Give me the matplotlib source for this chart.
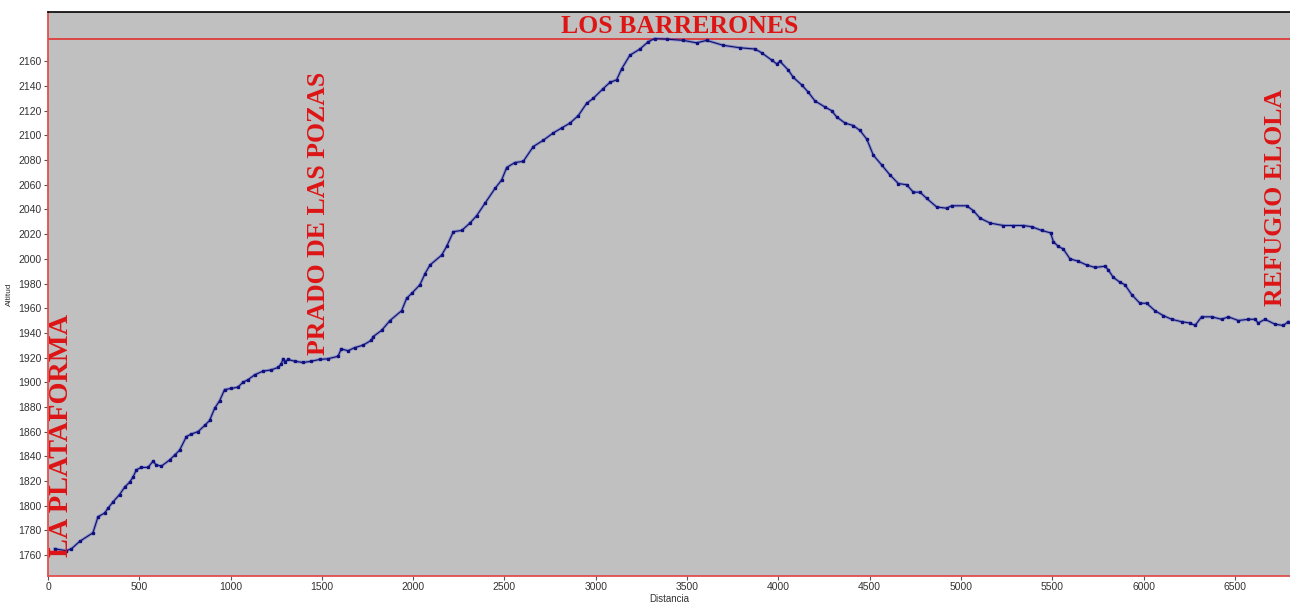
import matplotlib
matplotlib.use("Agg")
import matplotlib.pyplot as plt

distancia = [37, 100, 128, 173, 246, 274, 310, 329, 356, 392,
             420, 447, 465, 484, 511, 548, 575, 593, 621, 666,
             694, 721, 758, 785, 822, 858, 885, 913, 940, 967,
             1004, 1040, 1068, 1095, 1132, 1177, 1223, 1260, 1278, 1287,
             1296, 1314, 1351, 1397, 1442, 1488, 1533, 1588, 1606, 1643,
             1679, 1725, 1771,
             1781, 1827, 1873, 1937, 1964, 1992, 2037, 2065, 2092, 2156,
             2183, 2220, 2266, 2311, 2348, 2393, 2448, 2485, 2512, 2557,
             2603, 2658, 2712, 2767, 2813, 2859, 2904, 2950, 2986, 3041,
             3078, 3114, 3142, 3187, 3242, 3288, 3324, 3388, 3479,
             3552, 3607, 3698, 3790, 3872, 3908, 3963, 3991, 4009, 4054,
             4082, 4127, 4164, 4200, 4255, 4292, 4319, 4365, 4410, 4447,
             4484, 4520, 4566, 4611, 4657, 4703, 4739, 4776, 4812, 4867,
             4922, 4949, 5031, 5068, 5104, 5159, 5232,
             5286, 5341, 5387, 5442, 5491, 5506, 5533, 5560, 5597, 5643,
             5688, 5734, 5789, 5807, 5834, 5871, 5898, 5935, 5980, 6017,
             6062, 6108, 6154, 6209, 6254, 6282, 6318, 6373, 6428, 6464,
             6519, 6574, 6610, 6628, 6665, 6720, 6765, 6793]

altitud = [1765, 1763.5, 1765, 1771, 1778, 1791, 1794, 1798, 1803, 1809,
           1815, 1819, 1823, 1829, 1831, 1831, 1836, 1833, 1832, 1837,
           1841, 1845, 1856, 1858, 1860, 1865, 1869, 1879, 1885, 1894,
           1895, 1896, 1900, 1902, 1906, 1909, 1910, 1912, 1915, 1919,
           1916.5, 1918.5, 1917, 1916, 1917, 1918.5, 1919, 1921, 1927, 1925.5,
           1928, 1930, 1934,
           1937, 1942, 1950, 1958, 1968, 1972, 1979, 1988, 1995, 2003,
           2010, 2022, 2023, 2029, 2035, 2045, 2057, 2064, 2074, 2078,
           2079, 2091, 2096, 2102, 2106, 2110, 2116, 2126, 2130, 2138,
           2143, 2145, 2154, 2165, 2170, 2176, 2178.5, 2178, 2177,
           2175, 2177, 2173, 2171, 2170, 2167, 2161, 2158, 2160, 2153,
           2147, 2141, 2135, 2128, 2123, 2120, 2115, 2110, 2108, 2104,
           2097, 2084, 2076, 2068, 2061, 2060, 2054, 2054, 2049, 2042,
           2041, 2043, 2043, 2039, 2033, 2029, 2027,
           2027, 2027, 2026, 2023, 2021, 2014, 2010, 2008, 2000, 1998,
           1995, 1993, 1994, 1991, 1985, 1981, 1979, 1971, 1964, 1964,
           1958, 1954, 1951, 1949, 1948, 1946, 1953, 1953, 1951, 1953,
           1950, 1951, 1951, 1948, 1951, 1947, 1946, 1949]

x_ticks = [0, 500, 1000, 1500, 2000, 2500, 3000, 3500, 4000, 4500, 5000, 5500, 6000, 6500]
y_ticks = list(range(1760, 2161, 20))

lugares = ["LA PLATAFORMA", "PRADO DE LAS POZAS", "REFUGIO ELOLA"]
lugares_x = [72, 1479, 6720]
lugares_y = [1758, 1922, 1962]
lugares_size = [20.3, 18.5, 18.5]
cumbre = "LOS BARRERONES"
cumbre_x = 3461
cumbre_y = 2182.8

# ---- figure ----
fig = plt.figure(figsize=(12.9, 6.03), dpi=100)
ax = fig.add_axes([48 / 1290, 1 - 576 / 603, 1 - 48 / 1290, (576 - 12) / 603])
ax.set_facecolor("#C0C0C0")

ax.set_xlim(0, 6802)
ax.set_ylim(1743, 2200)

# profile: blue glow + dark line with small square markers
ax.plot(distancia, altitud, color="#3344ee", lw=2.2, alpha=0.4, zorder=3)
ax.plot(distancia, altitud, color="#10105a", lw=0.8, marker="s", ms=1.5,
        mfc="#101080", mec="#101080", zorder=4)

# max altitude line
ax.axhline(max(altitud), color="#E03030", lw=1.2, zorder=2)

red = "#DD1515"
serif = ["Liberation Serif", "DejaVu Serif"]
for name, lx, ly, fs in zip(lugares, lugares_x, lugares_y, lugares_size):
    ax.text(lx, ly, name, rotation=90, ha="center", va="bottom", color=red,
            fontsize=fs, fontweight="bold", family=serif, zorder=5)
ax.text(cumbre_x, cumbre_y, cumbre, ha="center", va="baseline", color=red,
        fontsize=18.5, fontweight="bold", family=serif, zorder=5)

# spines
ax.spines["right"].set_visible(False)
ax.spines["top"].set_color("black")
ax.spines["top"].set_linewidth(1.2)
ax.spines["left"].set_color("#E05050")
ax.spines["left"].set_linewidth(1.3)
ax.spines["bottom"].set_color("#E05050")
ax.spines["bottom"].set_linewidth(1.3)

sans = ["Liberation Sans Narrow", "Liberation Sans", "DejaVu Sans"]
ax.set_xticks(x_ticks)
ax.set_yticks(y_ticks)
ax.set_xticklabels([str(v) for v in x_ticks], family=sans, fontsize=7.5, color="#333333")
ax.set_yticklabels([str(v) for v in y_ticks], family=sans, fontsize=7.5, color="#333333")
ax.tick_params(axis="both", direction="out", length=3, width=0.8, color="#555555", pad=1.5)

ax.set_xlabel("Distancia", family=sans, fontsize=7, color="#333333", labelpad=1)
ax.set_ylabel("Altitud", family=sans, fontsize=6, color="#333333", labelpad=4)

fig.savefig("out.png", dpi=100, facecolor="white")
